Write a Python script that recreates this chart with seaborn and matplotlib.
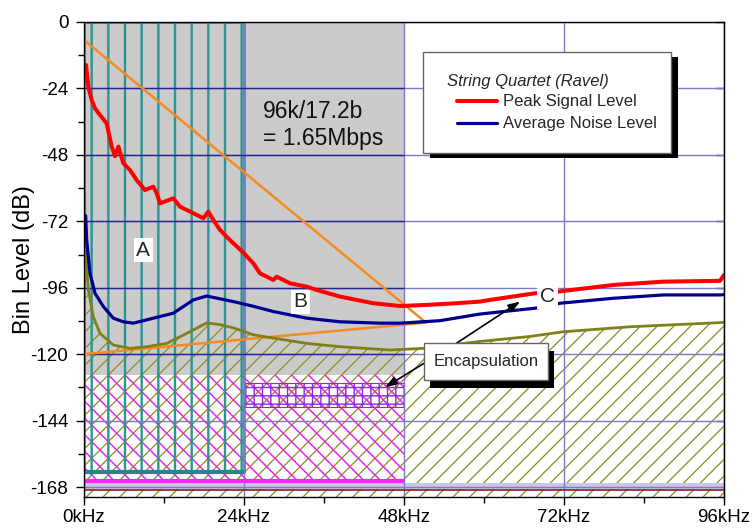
import numpy as np
import pandas as pd
import matplotlib
matplotlib.use("Agg")
import matplotlib.pyplot as plt
import seaborn as sns
from matplotlib.patches import Rectangle
from matplotlib.lines import Line2D
from matplotlib.ticker import MultipleLocator

# ---------------- data ----------------
peak_khz = [0.3, 0.65, 1.15, 1.65, 2.4, 3.4, 4.15, 4.65, 5.15, 5.9, 6.9, 7.9, 9.15, 10.4,
            10.9, 11.4, 13.4, 14.4, 16.4, 17.9, 18.65, 19.4, 20.4, 21.9, 23.9, 25.4, 26.4,
            28.4, 28.9, 30.9, 33.4, 34.9, 38.4, 43.4, 47.4, 51.4, 55.9, 59.4, 60.9, 67.65,
            71.1, 79.4, 86.9, 95.4, 96.0]
peak_db = [-15.5, -23.4, -28.2, -31.2, -33.6, -36.6, -45.0, -48.5, -45.0, -51.0, -53.5, -57.1,
           -60.7, -59.5, -61.8, -65.5, -63.7, -66.7, -69.1, -70.9, -68.5, -71.5, -75.1, -78.8,
           -83.3, -87.2, -90.8, -93.2, -92.0, -94.4, -95.6, -96.8, -99.2, -101.6, -102.6,
           -102.2, -101.6, -101.0, -100.4, -98.0, -97.4, -95.0, -93.8, -93.5, -91.4]

noise_khz = [0.25, 0.4, 0.9, 1.65, 2.9, 4.4, 5.9, 7.4, 10.4, 13.4, 16.4, 18.4, 20.4, 22.4,
             25.4, 28.4, 33.4, 38.4, 44.4, 47.4, 53.4, 59.4, 67.65, 71.4, 79.4, 86.9, 95.4, 96.0]
noise_db = [-70.0, -78.8, -90.8, -98.0, -102.8, -107.0, -108.3, -108.8, -107.0, -105.2, -100.4,
            -99.0, -100.0, -101.0, -102.7, -104.6, -107.0, -108.3, -108.8, -108.8, -107.9,
            -105.5, -103.4, -101.6, -99.8, -98.6, -98.6, -98.5]

floor_khz = [0.1, 0.15, 0.65, 1.4, 2.4, 4.4, 6.9, 9.4, 12.4, 15.4, 17.15, 18.4, 20.4, 22.4,
             25.4, 28.4, 33.4, 38.4, 45.9, 50.9, 59.4, 66.9, 71.9, 81.9, 95.4, 96.0]
floor_db = [-62.0, -79.0, -96.8, -106.5, -112.5, -116.7, -117.9, -117.3, -116.1, -112.5, -110.3,
            -108.7, -109.3, -110.5, -113.0, -114.2, -116.1, -117.3, -118.5, -117.9, -115.4,
            -113.6, -111.9, -110.1, -108.6, -108.5]

guide_khz = [0.0, 51.3]
guide_hi_db = [-6.5, -108.6]
guide_lo_db = [-120.0, -108.6]

# regions: (x0, x1, y0, y1)
region_a = (0, 24, -162.7, 0)
region_gray = (0, 48, -127.5, 0)
region_magenta = (0, 48, -165.7, -127.5)
region_encap = (24, 48, -139.0, -130.5)
band_db = (-168.6, -166.6)
floor_line_db = -169.1

x_ticks = [0, 24, 48, 72, 96]
x_tick_labels = ["0kHz", "24kHz", "48kHz", "72kHz", "96kHz"]
y_ticks = [0, -24, -48, -72, -96, -120, -144, -168]
y_tick_labels = ["0", "-24", "-48", "-72", "-96", "-120", "-144", "-168"]

# ---------------- style ----------------
sns.set_style("ticks")
plt.rcParams["font.family"] = ["Liberation Sans", "DejaVu Sans"]

fig = plt.figure(figsize=(7.52, 5.29), dpi=100)
ax = fig.add_axes([84 / 752, 32 / 529, 640 / 752, 475 / 529])
ax.set_xlim(0, 96)
ax.set_ylim(-171.6, 0)


def hatched_rect(reg, hatch, color, lw_hatch, z, edge_lw=0.0, edgecolor=None):
    x0, x1, y0, y1 = reg
    with plt.rc_context({"hatch.linewidth": lw_hatch, "hatch.color": color}):
        p = Rectangle((x0, y0), x1 - x0, y1 - y0, facecolor="none",
                      edgecolor=color, hatch=hatch, linewidth=0, zorder=z)
        if hasattr(p, "set_hatch_linewidth"):
            p.set_hatch_linewidth(lw_hatch)
        ax.add_patch(p)
    if edge_lw > 0:
        ax.add_patch(Rectangle((x0, y0), x1 - x0, y1 - y0, facecolor="none",
                               edgecolor=edgecolor or color, linewidth=edge_lw, zorder=z + 0.05))
    return p


# gray background block
gx0, gx1, gy0, gy1 = region_gray
ax.add_patch(Rectangle((gx0, gy0), gx1 - gx0, gy1 - gy0, facecolor="#cbcbcb",
                       edgecolor="none", zorder=0.2))

# olive hatch below the noise floor curve
with plt.rc_context({"hatch.linewidth": 0.9, "hatch.color": "#8c8c1e"}):
    pc = ax.fill_between(floor_khz, floor_db, -171.6, facecolor="none", edgecolor="#8c8c1e",
                         hatch="//", linewidth=0, zorder=0.5)
    if hasattr(pc, "set_hatch_linewidth"):
        pc.set_hatch_linewidth(0.9)

hatched_rect(region_magenta, "\\\\", "#ee22ee", 1.1, 0.6)
hatched_rect(region_encap, "++", "#8a2be2", 1.0, 0.7, edge_lw=0.8)
hatched_rect(region_a, "|", "#2c9494", 1.7, 0.8, edge_lw=1.8, edgecolor="#2c8c8c")

# lavender band + floor line
ax.add_patch(Rectangle((0, band_db[0]), 96, band_db[1] - band_db[0], facecolor="#c9c6e6",
                       edgecolor="none", zorder=0.9))
ax.axhline(floor_line_db, color="#8b1a1a", linewidth=1.2, zorder=2.7)

# grid
ax.set_axisbelow(False)
ax.grid(True, which="major", color="#7a7ac8", linewidth=1.0)
ax.hlines([t for t in y_ticks if region_gray[2] < t < region_gray[3]], region_gray[0],
          region_gray[1], color="#24248c", linewidth=1.0, zorder=2.6)

# region boundary lines
ax.hlines(region_a[2], region_a[0], region_a[1], color="#1f8a8a", linewidth=3.0, zorder=2.8)
ax.hlines(region_magenta[2], region_magenta[0], region_magenta[1], color="#ff22ff",
          linewidth=3.0, zorder=2.8)

# orange guide lines
guide_df = pd.DataFrame({"kHz": guide_khz * 2, "dB": guide_hi_db + guide_lo_db,
                         "g": ["hi", "hi", "lo", "lo"]})
sns.lineplot(data=guide_df, x="kHz", y="dB", units="g", estimator=None, sort=False,
             color="#f58a1f", linewidth=1.8, ax=ax, zorder=3)

# curves
floor_df = pd.DataFrame({"kHz": floor_khz, "dB": floor_db})
noise_df = pd.DataFrame({"kHz": noise_khz, "dB": noise_db})
peak_df = pd.DataFrame({"kHz": peak_khz, "dB": peak_db})
sns.lineplot(data=floor_df, x="kHz", y="dB", sort=False, estimator=None,
             color="#80801a", linewidth=2.0, ax=ax, zorder=4)
sns.lineplot(data=noise_df, x="kHz", y="dB", sort=False, estimator=None,
             color="#000090", linewidth=2.3, ax=ax, zorder=4.5)
sns.lineplot(data=peak_df, x="kHz", y="dB", sort=False, estimator=None,
             color="#ff0000", linewidth=2.9, ax=ax, zorder=5)

# ---------------- axes, ticks ----------------
ax.set_xticks(x_ticks)
ax.set_xticklabels(x_tick_labels)
ax.set_yticks(y_ticks)
ax.set_yticklabels(y_tick_labels)
ax.xaxis.set_minor_locator(MultipleLocator(12))
ax.yaxis.set_minor_locator(MultipleLocator(12))
ax.tick_params(which="major", direction="out", length=6, width=1.0, color="black",
               labelsize=13.5, labelcolor="black")
ax.tick_params(axis="y", which="major", pad=5.3)
ax.tick_params(axis="x", which="major", pad=3)
ax.tick_params(which="minor", direction="out", length=4, width=1.0, color="black")
for s in ax.spines.values():
    s.set_color("black")
    s.set_linewidth(1.0)
    s.set_zorder(8)
sec = ax.secondary_yaxis("right")
sec.set_yticks(y_ticks)
sec.tick_params(direction="in", length=6, width=1.0, color="black", labelright=False)
sec.spines["right"].set_color("black")

ax.set_xlabel("")
ax.set_ylabel("Bin Level (dB)", fontsize=17, color="black")
ax.yaxis.set_label_coords(-0.0766, 0.5)

# ---------------- annotations ----------------
ax.text(26.85, -37.2, "96k/17.2b\n= 1.65Mbps", fontsize=16.5, ha="left", va="center",
        linespacing=1.25, color="#111111", zorder=6)
lab_box = dict(boxstyle="square,pad=0.12", facecolor="white", edgecolor="none")
ax.text(8.9, -82.4, "A", fontsize=15, ha="center", va="center", bbox=lab_box, zorder=6)
ax.text(32.5, -101.0, "B", fontsize=15, ha="center", va="center", bbox=lab_box, zorder=6)
ax.text(69.5, -99.2, "C", fontsize=15, ha="center", va="center",
        bbox=dict(boxstyle="square,pad=0.15", facecolor="white", edgecolor="none"), zorder=6)

# legend box (manual, with hard shadow)
lx0, lx1, ly0, ly1 = 50.8, 88.1, -47.4, -10.7
ax.add_patch(Rectangle((lx0 + 1.05, ly0 - 1.8), lx1 - lx0, ly1 - ly0, facecolor="black",
                       edgecolor="none", zorder=6.8))
ax.add_patch(Rectangle((lx0, ly0), lx1 - lx0, ly1 - ly0, facecolor="white",
                       edgecolor="#666666", linewidth=1.0, zorder=6.9))
ax.text(54.4, -21.5, "String Quartet (Ravel)", fontsize=12, style="italic", ha="left",
        va="center", zorder=7)
ax.add_line(Line2D([55.9, 61.9], [-28.7, -28.7], color="#ff0000", linewidth=2.9, zorder=7))
ax.add_line(Line2D([55.9, 61.9], [-36.6, -36.6], color="#000090", linewidth=2.3, zorder=7))
ax.text(62.8, -28.7, "Peak Signal Level", fontsize=12, ha="left", va="center", zorder=7)
ax.text(62.8, -36.6, "Average Noise Level", fontsize=12, ha="left", va="center", zorder=7)

# Encapsulation callout
ex0, ex1, ey0, ey1 = 51.0, 69.6, -129.3, -116.0
ax.add_patch(Rectangle((ex0 + 0.9, ey0 - 2.9), ex1 - ex0, ey1 - ey0, facecolor="black",
                       edgecolor="none", zorder=6.8))
ax.add_patch(Rectangle((ex0, ey0), ex1 - ex0, ey1 - ey0, facecolor="white",
                       edgecolor="#666666", linewidth=1.0, zorder=6.9))
ax.text((ex0 + ex1) / 2, (ey0 + ey1) / 2, "Encapsulation", fontsize=12, ha="center",
        va="center", zorder=7)
arrow_kw = dict(arrowstyle="-|>,head_length=0.7,head_width=0.25", color="black", lw=1.2,
                shrinkA=0, shrinkB=0)
ax.annotate("", xy=(65.4, -101.0), xytext=(55.9, -116.0), arrowprops=arrow_kw, zorder=6.5)
ax.annotate("", xy=(45.2, -131.9), xytext=(51.0, -123.3), arrowprops=arrow_kw, zorder=6.5)

fig.savefig("out.png", dpi=100)
